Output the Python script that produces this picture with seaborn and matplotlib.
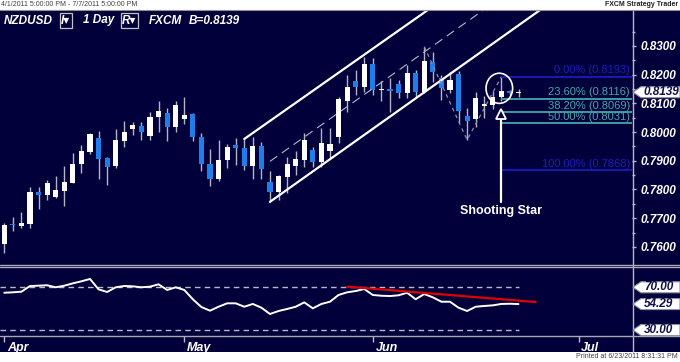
import numpy as np
import pandas as pd
import matplotlib
matplotlib.use("Agg")
import matplotlib.pyplot as plt
import seaborn as sns
from matplotlib.patches import Ellipse, Polygon, Rectangle
from matplotlib.lines import Line2D

# ---- data (NZDUSD daily, 1 Apr - 24 Jun 2011) ----
opens = [0.7610, 0.7680, 0.7674, 0.7679, 0.7790, 0.7781, 0.7774, 0.7795, 0.7824, 0.7888,
         0.7930, 0.7978, 0.7909, 0.7882, 0.7969, 0.8010, 0.8021, 0.7985, 0.8052, 0.8068,
         0.8019, 0.8045, 0.8062, 0.7982, 0.7889, 0.7836, 0.7903, 0.7955, 0.7946, 0.7883,
         0.7952, 0.7825, 0.7790, 0.7843, 0.7883, 0.7903, 0.7938, 0.7897, 0.7934, 0.7984,
         0.8108, 0.8178, 0.8158, 0.8236, 0.8146, 0.8149, 0.8167, 0.8135, 0.8205, 0.8141,
         0.8245, 0.8189, 0.8147, 0.8204, 0.8056, 0.8045, 0.8090, 0.8096, 0.8121, 0.8143,
         0.8136]
highs = [0.7683, 0.7705, 0.7721, 0.7808, 0.7808, 0.7833, 0.7847, 0.7882, 0.7928, 0.7955,
         0.7998, 0.8003, 0.7912, 0.8010, 0.8039, 0.8035, 0.8036, 0.8070, 0.8107, 0.8084,
         0.8107, 0.8121, 0.8066, 0.7996, 0.7942, 0.7971, 0.7959, 0.7978, 0.7976, 0.7984,
         0.7966, 0.7866, 0.7850, 0.7912, 0.7934, 0.7998, 0.7949, 0.8013, 0.8013, 0.8123,
         0.8199, 0.8216, 0.8261, 0.8259, 0.8178, 0.8187, 0.8182, 0.8234, 0.8216, 0.8298,
         0.8280, 0.8199, 0.8210, 0.8212, 0.8083, 0.8141, 0.8125, 0.8143, 0.8193, 0.8147,
         0.8149]
lows = [0.7578, 0.7655, 0.7665, 0.7665, 0.7731, 0.7763, 0.7772, 0.7743, 0.7822, 0.7859,
        0.7923, 0.7837, 0.7816, 0.7876, 0.7949, 0.7989, 0.7973, 0.7971, 0.7999, 0.7970,
        0.7999, 0.8028, 0.7969, 0.7863, 0.7813, 0.7830, 0.7876, 0.7885, 0.7868, 0.7836,
        0.7836, 0.7757, 0.7763, 0.7787, 0.7851, 0.7877, 0.7877, 0.7880, 0.7909, 0.7961,
        0.8071, 0.8129, 0.8141, 0.8129, 0.8108, 0.8071, 0.8118, 0.8118, 0.8123, 0.8135,
        0.8176, 0.8112, 0.8135, 0.8031, 0.7973, 0.8019, 0.8050, 0.8082, 0.8110, 0.8130,
        0.8123]
closes = [0.7676, 0.7676, 0.7682, 0.7792, 0.7781, 0.7824, 0.7797, 0.7826, 0.7888, 0.7935,
          0.7992, 0.7906, 0.7880, 0.7971, 0.8001, 0.8023, 0.8002, 0.8054, 0.8074, 0.8019,
          0.8093, 0.8061, 0.7982, 0.7888, 0.7837, 0.7903, 0.7948, 0.7945, 0.7883, 0.7952,
          0.7870, 0.7790, 0.7847, 0.7889, 0.7906, 0.7972, 0.7897, 0.7961, 0.7960, 0.8115,
          0.8158, 0.8158, 0.8236, 0.8147, 0.8150, 0.8143, 0.8135, 0.8205, 0.8141, 0.8249,
          0.8210, 0.8153, 0.8182, 0.8075, 0.8038, 0.8120, 0.8097, 0.8122, 0.8143, 0.8135,
          0.8139]
rsi = [64.9, 65.3, 65.9, 71.2, 71.5, 71.9, 70.0, 71.5, 73.7, 75.6,
       77.8, 68.1, 65.6, 70.0, 71.2, 70.9, 70.0, 70.6, 72.8, 67.5,
       70.0, 67.5, 58.8, 51.5, 48.1, 51.8, 55.0, 55.0, 51.8, 54.4,
       50.9, 45.0, 47.8, 49.7, 51.8, 55.9, 50.3, 54.4, 56.5, 62.8,
       65.3, 66.5, 68.4, 62.8, 62.1, 61.8, 62.5, 64.9, 58.8, 63.7,
       60.6, 56.5, 56.5, 50.9, 47.8, 51.8, 52.5, 53.1, 54.4, 54.6,
       54.29]

month_labels = ["Apr", "May", "Jun", "Jul"]
month_bars = [0, 21, 43, 67]

# channel lines as (bar, price) pairs
channel_lower = [(31, 0.7757), (62.5, 0.8425)]
channel_upper = [(28, 0.7976), (49.4, 0.8425)]
channel_mid = [(31, 0.7898), (55.9, 0.8425)]
swing_points = [(49, 0.8298), (54, 0.7973), (58, 0.8193)]

fib_pcts = ["0.00%", "23.60%", "38.20%", "50.00%", "100.00%"]
fib_levels = [0.8193, 0.8116, 0.8069, 0.8031, 0.7868]
fib_start = 58

rsi_trend = [(40, 70.6), (62, 56.2)]
rsi_levels = [70, 30]
last_price = 0.8139
last_rsi = 54.29

# ---- style ----
NAVY = "#02003a"
BLUE = "#1e7fe8"
WICK = "#b4b4c4"
GRID = "#b8b8c8"
DARKBLUE = "#1c1cc0"
TEAL = "#3fa9a9"

sns.set_theme(style="dark", rc={"axes.facecolor": NAVY, "axes.grid": False})
plt.rcParams["font.family"] = ["Liberation Sans", "DejaVu Sans"]

W, H = 680, 362


def fx(px):
    return px / W


def fy(py):
    return 1 - py / H


fig = plt.figure(figsize=(6.8, 3.62), dpi=100)
fig.patch.set_facecolor("white")
fig.add_artist(Rectangle((0, fy(352)), 1, fy(9.5) - fy(352), transform=fig.transFigure,
                         fc=NAVY, ec="none", zorder=-1))

ax = fig.add_axes([0, fy(264), fx(632), fy(10) - fy(264)])
ax_rsi = fig.add_axes([0, fy(336), fx(632), fy(267) - fy(336)])
xlim = (-0.5, 73.24)

# ---- candles ----
df = pd.DataFrame({"open": opens, "high": highs, "low": lows, "close": closes})
df["bar"] = np.arange(len(df))
df["up"] = df["close"] >= df["open"]
body = np.maximum((df["close"] - df["open"]).abs(), 0.0005)
ax.vlines(df["bar"], df["low"], df["high"], color=WICK, lw=1, zorder=2)
ax.bar(df["bar"], body, bottom=np.minimum(df["open"], df["close"]), width=0.6,
       color=np.where(df["up"], "white", BLUE), lw=0, zorder=3)

# channel
for pts, style in [(channel_lower, "-"), (channel_upper, "-")]:
    (x0, y0), (x1, y1) = pts
    ax.plot([x0, x1], [y0, y1], color="white", lw=1.6, ls=style, zorder=4)
(x0, y0), (x1, y1) = channel_mid
ax.plot([x0, x1], [y0, y1], color=GRID, lw=0.8, ls=(0, (8, 5)), zorder=4)
sx, sy = zip(*swing_points)
ax.plot(sx, sy, color="#8c8ca8", lw=0.9, ls=(0, (3, 3)), zorder=4)

# fibonacci
for pct, lvl in zip(fib_pcts, fib_levels):
    c = DARKBLUE if pct in ("0.00%", "100.00%") else TEAL
    ax.hlines(lvl, fib_start, xlim[1], color=c, lw=1.3, zorder=4)
    ax.annotate(f"{pct} ({lvl:.4f})", xy=(73.0, lvl), xytext=(0, 1),
                textcoords="offset points", ha="right", va="bottom",
                color=c, fontsize=8, zorder=5)

# shooting star callout
ax.add_patch(Ellipse((57.76, 0.81526), 3.1, 0.0105, fill=False, ec="white", lw=1.2, zorder=5))
ax.plot([58, 58], [0.7758, 0.8050], color="white", lw=1.6, zorder=5)
ax.plot([58], [0.8063], marker="^", ms=7, mfc=NAVY, mec="white", mew=1.3, zorder=6)
ax.text(58, 0.7726, "Shooting Star", color="white", fontsize=9, fontweight="bold",
        ha="center", va="center", zorder=6)

ax.set_xlim(xlim)
ax.set_ylim(0.75404, 0.84254)
ax.set_xticks([])
ax.yaxis.set_ticks_position("right")
ax.set_yticks(np.round(np.arange(0.76, 0.8301, 0.01), 4))
ax.set_yticks(np.round(np.arange(0.765, 0.8401, 0.01), 4), minor=True)
ax.yaxis.set_major_formatter(matplotlib.ticker.FormatStrFormatter("%.4f"))
ax.tick_params(axis="y", which="major", direction="out", length=3, width=1,
               color=GRID, labelcolor="white", labelsize=8.5, pad=3, right=True)
ax.tick_params(axis="y", which="minor", direction="out", length=2, width=1, color=GRID, right=True)
for lbl in ax.get_yticklabels():
    lbl.set_fontweight("bold")
    lbl.set_fontstyle("italic")
for s in ax.spines.values():
    s.set_visible(False)

# ---- RSI ----
rsi_df = pd.DataFrame({"bar": np.arange(len(rsi)), "rsi": rsi})
sns.lineplot(data=rsi_df, x="bar", y="rsi", ax=ax_rsi, color="white", lw=1.4, zorder=3)
ax_rsi.hlines(rsi_levels, xlim[0], len(rsi) - 1, color=GRID, lw=1, ls=(0, (4, 3)), zorder=2)
(x0, y0), (x1, y1) = rsi_trend
ax_rsi.plot([x0, x1], [y0, y1], color="#e00000", lw=1.6, zorder=4)
ax_rsi.set_xlim(xlim)
ax_rsi.set_ylim(24.4, 89.0)
ax_rsi.set_xlabel("")
ax_rsi.set_ylabel("")
ax_rsi.set_yticks([])
ax_rsi.set_xticks(month_bars)
ax_rsi.set_xticklabels([])
ax_rsi.tick_params(axis="x", direction="out", length=4, width=1, color=GRID, bottom=True)
for s in ax_rsi.spines.values():
    s.set_visible(False)
for lbl, pos in zip(month_labels, month_bars):
    ax_rsi.annotate(lbl, xy=(pos, 0), xycoords=("data", "axes fraction"), xytext=(2, -4),
                    textcoords="offset points", ha="left", va="top", color="white",
                    fontsize=9, fontweight="bold", fontstyle="italic", annotation_clip=False)

# ---- frame lines ----
fig.add_artist(Line2D([fx(632.5)] * 2, [fy(9.5), fy(352)], transform=fig.transFigure, color=GRID, lw=1))
for yy in (264.8, 267.0):
    fig.add_artist(Line2D([0, 1], [fy(yy)] * 2, transform=fig.transFigure, color="#a8a8b4", lw=1))
fig.add_artist(Line2D([0, 1], [fy(336)] * 2, transform=fig.transFigure, color="#a8a8b4", lw=1))
fig.add_artist(Line2D([0, 1], [fy(9.5)] * 2, transform=fig.transFigure, color="#909090", lw=0.8))


# ---- value tags on the right ----
def tag(axis, value, text):
    yy = fig.transFigure.inverted().transform(axis.transData.transform((0, value)))[1]
    h = 5.5 / H
    pts = [(fx(633), yy), (fx(641), yy + h), (fx(680), yy + h), (fx(680), yy - h), (fx(641), yy - h)]
    fig.add_artist(Polygon(pts, closed=True, transform=fig.transFigure, fc="white",
                           ec="#9090a0", lw=0.8, zorder=5))
    fig.text(fx(644), yy, text, ha="left", va="center", color="#10104a", fontsize=8.5,
             fontweight="bold", fontstyle="italic", zorder=6)


tag(ax, last_price, f"{last_price:.4f}")
for lvl in rsi_levels:
    tag(ax_rsi, lvl, f"{lvl:.2f}")
tag(ax_rsi, last_rsi, f"{last_rsi:.2f}")

# ---- header / footer text ----
hdr = dict(color="white", fontsize=8.5, fontweight="bold", fontstyle="italic", va="center")
fig.text(fx(4), fy(20.5), "NZDUSD", **hdr)
box = dict(boxstyle="square,pad=0.12", fc="none", ec="#c0c0c8", lw=0.9)
fig.text(fx(61), fy(20.5), "I\u25be", bbox=box, **hdr)
fig.text(fx(83), fy(20.5), "1 Day", **hdr)
fig.text(fx(122), fy(20.5), "R\u25be", bbox=box, **hdr)
fig.text(fx(149), fy(20.5), "FXCM", **hdr)
fig.text(fx(189), fy(20.5), f"B={last_price:.4f}", **hdr)

fig.text(fx(1), fy(4.5), "4/1/2011 5:00:00 PM - 7/7/2011 5:00:00 PM", color="#404040",
         fontsize=5, va="center", ha="left")
fig.text(fx(678), fy(4.5), "FXCM Strategy Trader", color="#202020", fontsize=5,
         fontweight="bold", va="center", ha="right")
fig.text(fx(678), fy(357), "Printed at 6/23/2011 8:31:31 PM", color="#404040", fontsize=5,
         va="center", ha="right")

fig.savefig("out.png", dpi=100, facecolor=fig.get_facecolor())
